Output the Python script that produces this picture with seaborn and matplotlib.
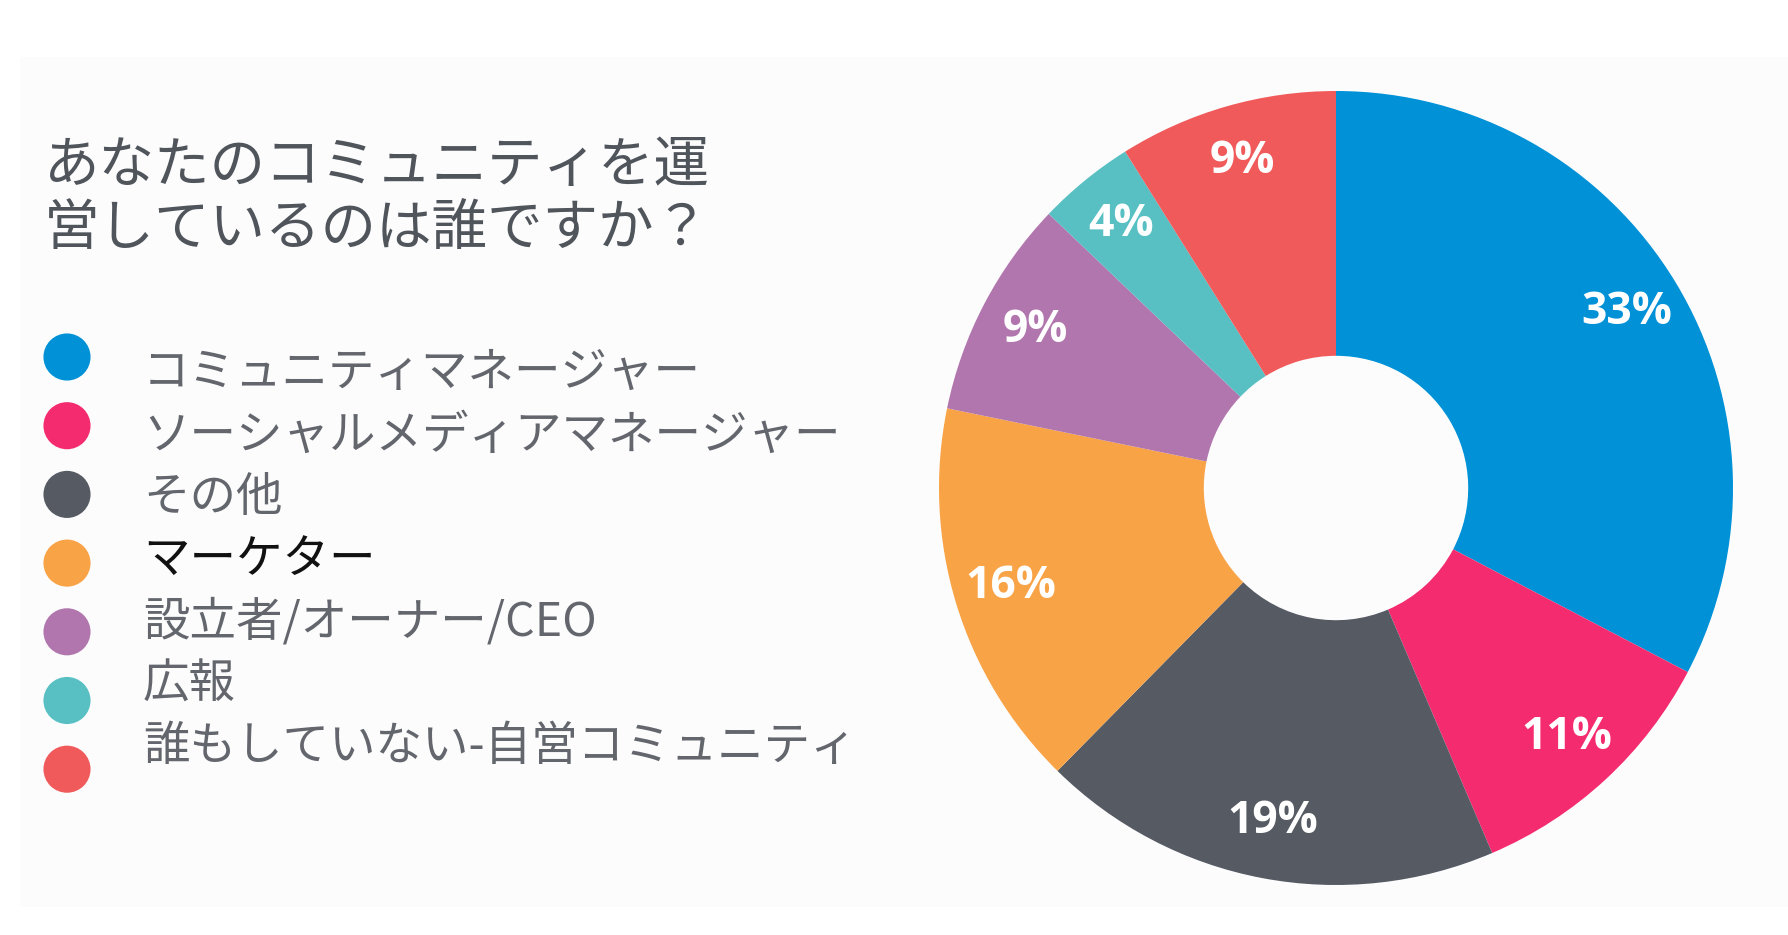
import matplotlib
matplotlib.use("Agg")
import matplotlib.pyplot as plt
import seaborn as sns
import numpy as np
import pandas as pd
from matplotlib.patches import Rectangle

# ---- data ----
title_lines = ["あなたのコミュニティを運", "営しているのは誰ですか？"]
categories = [
    "コミュニティマネージャー",
    "ソーシャルメディアマネージャー",
    "その他",
    "マーケター",
    "設立者/オーナー/CEO",
    "広報",
    "誰もしていない-自営コミュニティ",
]
values = [33, 11, 19, 16, 9, 4, 9]
colors = ["#0091d7", "#f42b6f", "#555a63", "#f9a347", "#b076ad", "#58c0c3", "#f05a5a"]
text_colors = ["#63676d", "#63676d", "#63676d", "#111111", "#63676d", "#63676d", "#63676d"]

sns.set_theme(style="white")
plt.rcParams["font.family"] = ["Noto Sans CJK JP", "DejaVu Sans"]

W, H = 1788, 935
fig = plt.figure(figsize=(W / 100, H / 100), dpi=100)
fig.patch.set_facecolor("white")

# overlay axes in pixel coordinates (y downward)
ov = fig.add_axes([0, 0, 1, 1])
ov.set_xlim(0, W)
ov.set_ylim(H, 0)
ov.axis("off")
ov.add_patch(Rectangle((20, 57), W - 20, 850, facecolor="#fcfcfd", edgecolor="none", zorder=0))

# title
for i, line in enumerate(title_lines):
    ov.text(44, 166 + i * 63, line, fontsize=40, color="#50555c",
            va="center", ha="left", zorder=3)

# legend markers via seaborn
leg_df = pd.DataFrame({
    "x": [67] * len(categories),
    "y": [357 + i * 68.7 for i in range(len(categories))],
    "cat": categories,
})
sns.scatterplot(data=leg_df, x="x", y="y", hue="cat", palette=colors,
                s=1150, linewidth=0, legend=False, ax=ov, zorder=3)
ov.set_xlim(0, W)
ov.set_ylim(H, 0)
ov.axis("off")
for i, (cat, tc) in enumerate(zip(categories, text_colors)):
    ov.text(143, 373 + i * 62.3, cat, fontsize=33.5, color=tc,
            va="center", ha="left", zorder=3)

# donut
cx, cy, r = 1336, 488, 397
ax = fig.add_axes([(cx - r) / W, (H - cy - r) / H, 2 * r / W, 2 * r / H])
wedges, _ = ax.pie(values, colors=colors, startangle=90, counterclock=False,
                   radius=1.0, wedgeprops=dict(width=0.667, linewidth=0))
ax.set_xlim(-1, 1)
ax.set_ylim(-1, 1)
ax.set_aspect("equal")
ax.axis("off")
for w, v in zip(wedges, values):
    ang = np.deg2rad((w.theta1 + w.theta2) / 2)
    ax.text(0.855 * np.cos(ang), 0.855 * np.sin(ang), f"{v}%",
            family=["Open Sans", "DejaVu Sans"], fontweight="bold",
            fontsize=32, color="white", ha="center", va="center")

fig.savefig("out.png", dpi=100, facecolor="white")
